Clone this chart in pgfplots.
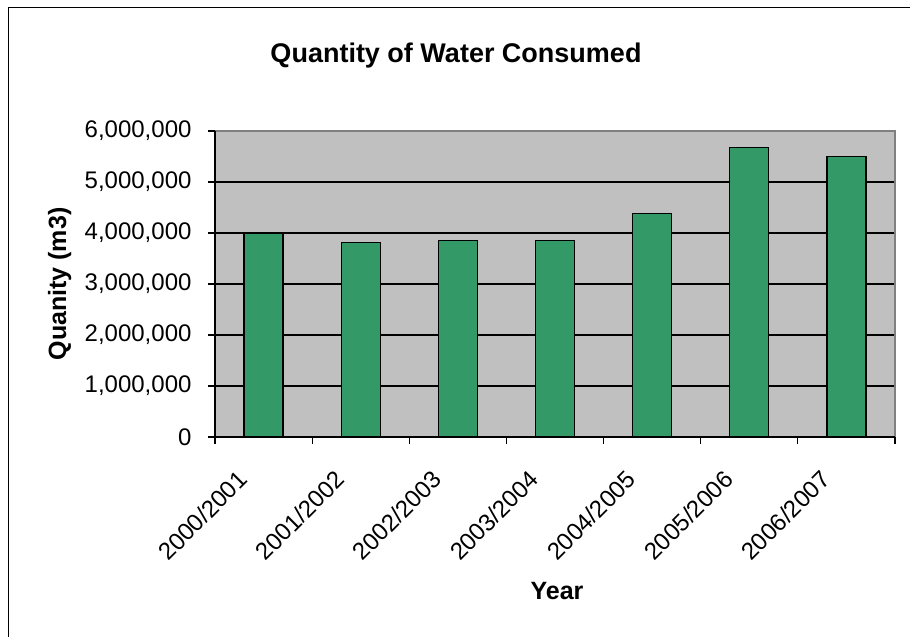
\documentclass[border=0pt]{standalone}
\usepackage{fontspec}
\setmainfont{Liberation Sans}
\usepackage{pgfplots}
\pgfplotsset{compat=1.18}

\definecolor{plotgrey}{HTML}{C0C0C0}
\definecolor{bargreen}{HTML}{339966}
\definecolor{framegrey}{HTML}{808080}

% Annual water consumption (m3), one bar per year, centred in its slot
\pgfplotstableread{
pos value
0.5 3990000
1.5 3820000
2.5 3860000
3.5 3860000
4.5 4380000
5.5 5670000
6.5 5500000
}\watertable

\begin{document}
\begin{tikzpicture}[x=1pt,y=1pt]
\useasboundingbox (0,0) rectangle (910,637);
% outer chart frame
\draw[line width=1.3pt] (8.5,0) -- (8.5,629.5) -- (910,629.5);

\begin{axis}[
  at={(215pt,200pt)}, anchor=south west,
  scale only axis, width=680pt, height=306pt,
  xmin=0, xmax=7, ymin=0, ymax=6000000,
  axis background/.style={fill=plotgrey},
  axis line style={draw=none},
  ybar, bar width=39pt, bar shift=0pt,
  xtick={0.5,1.5,2.5,3.5,4.5,5.5,6.5},
  xticklabels={2000/2001,2001/2002,2002/2003,2003/2004,2004/2005,2005/2006,2006/2007},
  major x tick style={draw=none},
  minor xtick={0,1,2,3,4,5,6,7},
  minor x tick style={black, line width=1.2pt},
  xtick pos=bottom, ytick pos=left,
  tick align=outside,
  major tick length=7pt, minor tick length=7pt,
  ytick={0,1000000,2000000,3000000,4000000,5000000,6000000},
  yticklabels={0,{1,000,000},{2,000,000},{3,000,000},{4,000,000},{5,000,000},{6,000,000}},
  scaled y ticks=false,
  y tick style={black, line width=1.2pt},
  ymajorgrids, xmajorgrids=false,
  grid style={black, line width=1.2pt},
  tick label style={font=\fontsize{24}{27}\selectfont, black},
  /pgf/number format/assume math mode=true,
  yticklabel style={xshift=-13pt},
  xticklabel style={xshift=-27pt, yshift=-20pt, rotate=45, anchor=north east},
  clip=false,
]
\addplot[fill=bargreen, draw=black, line width=1.2pt] table[x=pos, y=value] {\watertable};
% plot-area frame: grey top/right, black left/bottom axes
\draw[framegrey, line width=1.2pt] (rel axis cs:0,1) -- (rel axis cs:1,1) -- (rel axis cs:1,0);
\draw[black, line width=1.3pt] (rel axis cs:0,1) -- (rel axis cs:0,0) -- (rel axis cs:1,0);
\end{axis}

\node[anchor=base, font=\fontsize{27}{30}\selectfont\bfseries] at (456,574) {Quantity of Water Consumed};
\node[anchor=base, rotate=90, font=\fontsize{25}{28}\selectfont\bfseries] at (66,353) {Quanity (m3)};
\node[anchor=base, font=\fontsize{25}{28}\selectfont\bfseries] at (557,37) {Year};
\end{tikzpicture}
\end{document}
